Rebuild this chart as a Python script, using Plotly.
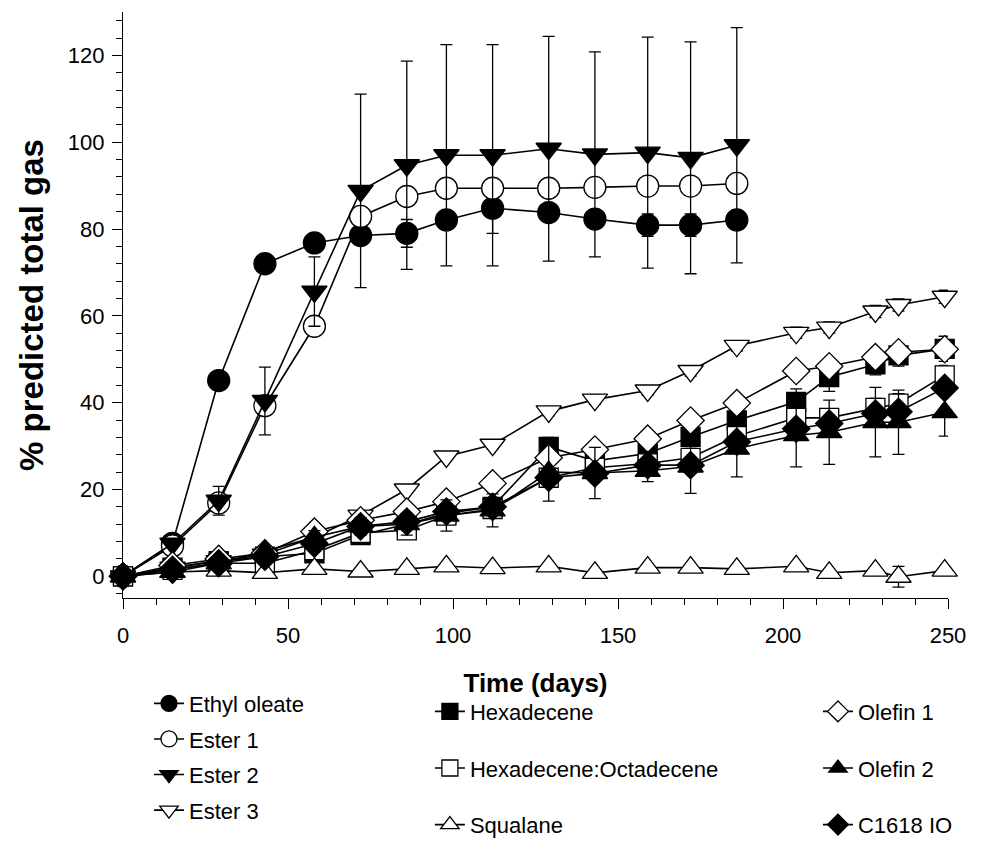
import plotly.graph_objects as go

# ---- data ----
days = [0, 15, 29, 43, 58, 72, 86, 98, 112, 129, 143, 159, 172, 186, 204, 214, 228, 235, 249]
days_short = days[:14]

ethyl_oleate = [0, 7.6, 45.1, 72.0, 76.8, 78.5, 79.0, 82.1, 84.8, 83.8, 82.3, 80.9, 80.9, 82.1]
ethyl_oleate_err = [0, 0, 0, 0, 0, 0, 3.2, 0, 5.8, 0, 0, 2.6, 2.6, 0]

ester1 = [0, 7.0, 16.9, 39.3, 57.6, 82.9, 87.5, 89.4, 89.4, 89.4, 89.6, 89.9, 89.9, 90.5]

ester2 = [0, 7.5, 17.4, 40.4, 65.6, 88.8, 94.7, 97.0, 97.0, 98.5, 97.2, 97.6, 96.4, 99.3]
ester2_err = [0, 0.5, 3.3, 7.8, 8.0, 22.3, 24.0, 25.5, 25.5, 25.9, 23.6, 26.6, 26.7, 27.1]

ester3 = [-0.5, 2.0, 3.5, 5.0, 9.0, 14.0, 20.0, 27.6, 30.3, 38.0, 40.7, 42.8, 47.3, 53.1,
          56.1, 57.3, 61.0, 62.5, 64.4]
ester3_err = [0.3, 0.3, 0.4, 0.5, 0.6, 0.7, 0.8, 0.9, 1.0, 1.0, 1.1, 1.1, 1.2, 1.2,
              1.3, 1.3, 1.4, 1.4, 1.5]

hexadecene = [0, 2.0, 3.5, 4.5, 5.3, 9.5, 12.0, 14.5, 16.0, 29.8, 26.6, 28.3, 32.1, 35.9,
              40.2, 45.9, 48.8, 50.9, 52.4]
hexadecene_err = [0, 0.3, 0.5, 0.5, 0.8, 1.0, 1.2, 1.5, 1.5, 2.2, 2.0, 2.2, 2.2, 2.5,
                  3.0, 3.3, 2.4, 2.5, 2.9]

hex_oct = [0, 1.5, 3.0, 3.0, 6.0, 10.0, 10.6, 14.0, 15.5, 22.7, 25.0, 26.0, 27.3, 32.3,
           36.5, 36.5, 38.8, 39.8, 46.3]
hex_oct_err = [0, 0.3, 0.5, 0.6, 0.8, 1.0, 1.0, 1.2, 1.2, 1.5, 1.5, 1.6, 1.9, 2.0,
               2.0, 2.0, 2.2, 2.3, 2.3]

squalane = [0, 1.0, 1.3, 0.8, 1.7, 1.1, 1.7, 2.3, 1.9, 2.3, 0.8, 2.0, 2.0, 1.7,
            2.3, 0.8, 1.3, -0.1, 1.3]
squalane_err = [0, 0.3, 0.3, 0.3, 0.3, 0.3, 0.3, 0.3, 0.3, 0.3, 0.3, 0.3, 0.3, 0.3,
                0.3, 0.3, 0.3, 2.4, 0.3]

olefin1 = [0, 2.5, 4.0, 5.3, 10.3, 12.9, 14.9, 17.2, 21.4, 27.3, 29.2, 31.7, 35.9, 39.9,
           47.3, 48.4, 50.5, 51.6, 52.3]

olefin2 = [0, 1.0, 3.0, 5.8, 9.0, 11.5, 12.0, 14.0, 15.2, 24.0, 23.8, 24.3, 25.3, 29.4,
           32.5, 33.2, 35.5, 35.5, 37.8]
olefin2_err = [0, 0.5, 0.8, 1.0, 1.5, 2.0, 2.5, 3.6, 3.8, 6.7, 5.9, 2.5, 6.2, 6.5,
               7.3, 7.4, 8.0, 7.4, 5.5]

c1618_io = [0, 1.5, 3.0, 4.5, 7.5, 11.5, 12.6, 14.9, 16.0, 22.7, 23.7, 25.6, 25.6, 31.0,
            34.0, 35.2, 37.5, 37.9, 43.4]

FONT = "Liberation Sans, Arial, sans-serif"

series = [
    # name, x, y, err, symbol, fill, size, legend
    ("Ethyl oleate", days_short, ethyl_oleate, ethyl_oleate_err, "circle", "black", 22, "legend"),
    ("Ester 1", days_short, ester1, None, "circle", "white", 22, "legend"),
    ("Ester 2", days_short, ester2, ester2_err, "triangle-down", "black", 22, "legend"),
    ("Ester 3", days, ester3, ester3_err, "triangle-down", "white", 22, "legend"),
    ("Hexadecene", days, hexadecene, hexadecene_err, "square", "black", 19, "legend2"),
    ("Hexadecene:Octadecene", days, hex_oct, hex_oct_err, "square", "white", 19, "legend2"),
    ("Squalane", days, squalane, squalane_err, "triangle-up", "white", 22, "legend2"),
    ("Olefin 1", days, olefin1, None, "diamond", "white", 21, "legend3"),
    ("Olefin 2", days, olefin2, olefin2_err, "triangle-up", "black", 22, "legend3"),
    ("C1618 IO", days, c1618_io, None, "diamond", "black", 21, "legend3"),
]

fig = go.Figure()
for name, x, y, err, sym, fill, size, leg in series:
    kw = {}
    if err is not None:
        kw["error_y"] = dict(type="data", array=err, visible=True, color="black",
                             thickness=1.3, width=6)
    fig.add_trace(go.Scatter(
        x=x, y=y, name=name, mode="lines+markers",
        line=dict(color="black", width=1.6),
        marker=dict(symbol=sym, size=size, color=fill,
                    line=dict(color="black", width=1.3)),
        cliponaxis=False, legend=leg, legendgroup=name, **kw))

axis_common = dict(
    showline=True, linecolor="black", linewidth=1.3,
    ticks="outside", ticklen=10, tickwidth=1.3, tickcolor="black",
    showgrid=False, zeroline=False,
    tickfont=dict(family=FONT, size=22, color="black"),
)

fig.update_xaxes(
    range=[0, 250], tick0=0, dtick=50, ticklabelstandoff=7,
    minor=dict(dtick=10, ticks="outside", ticklen=6, tickcolor="black", tickwidth=1.3),
    title=dict(text="<b>Time (days)</b>", font=dict(family=FONT, size=26, color="black"),
               standoff=27),
    **axis_common)
fig.update_yaxes(
    range=[-5, 130], tick0=0, dtick=20, ticklabelstandoff=3,
    minor=dict(dtick=4, tick0=0, ticks="outside", ticklen=6, tickcolor="black", tickwidth=1.3),
    title=dict(text="<b>% predicted total gas</b>", font=dict(family=FONT, size=33, color="black"),
               standoff=14),
    **axis_common)

leg_font = dict(family=FONT, size=22, color="black")
fig.update_layout(
    width=987, height=842,
    margin=dict(l=115, r=47, t=4, b=231),
    paper_bgcolor="white", plot_bgcolor="white",
    font=dict(family=FONT, color="black"),
    legend=dict(x=0.0315, y=-0.1443, xanchor="left", yanchor="top", font=leg_font,
                tracegroupgap=4, bgcolor="rgba(0,0,0,0)", traceorder="grouped"),
    legend2=dict(x=0.372, y=-0.158, xanchor="left", yanchor="top", font=leg_font,
                 tracegroupgap=25, bgcolor="rgba(0,0,0,0)", traceorder="grouped"),
    legend3=dict(x=0.8424, y=-0.158, xanchor="left", yanchor="top", font=leg_font,
                 tracegroupgap=25, bgcolor="rgba(0,0,0,0)", traceorder="grouped"),
)

fig.write_html("out.html")
